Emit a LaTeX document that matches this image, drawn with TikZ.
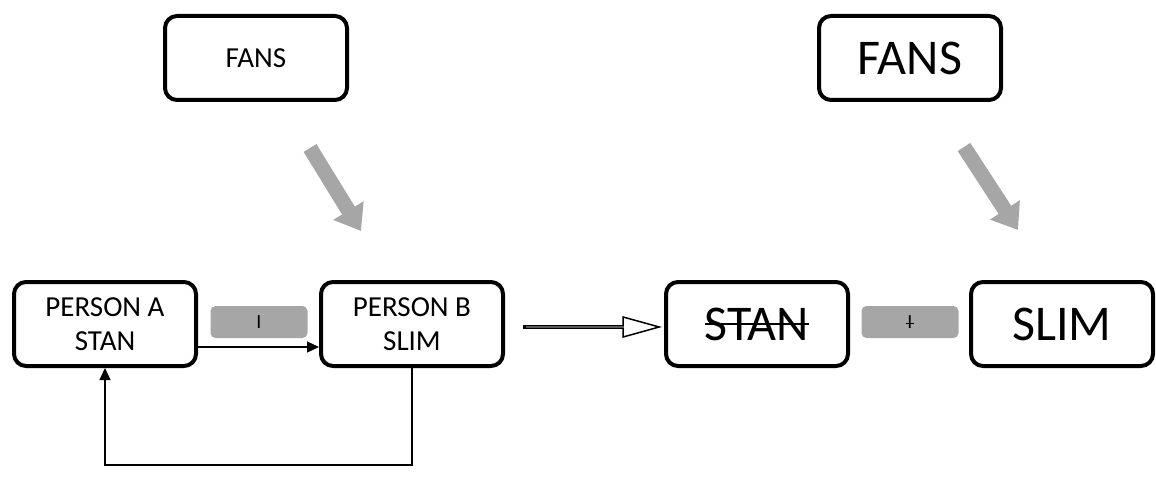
\documentclass[tikz,border=0pt]{standalone}
\usepackage{fontspec}
\setmainfont{Carlito}
\usetikzlibrary{arrows.meta,shapes.arrows}
\definecolor{tagGray}{HTML}{A6A6A6}

\begin{document}
\begin{tikzpicture}[x=1pt,y=-1pt,
		box/.style={draw, line width=4pt, rounded corners=12pt, minimum width=182pt, minimum height=84pt, align=center, font=\fontsize{29}{34}\selectfont},
		bigbox/.style={box, font=\fontsize{50}{60}\selectfont},
		tag/.style={fill=tagGray, rounded corners=5pt, minimum width=97pt, minimum height=32pt, inner sep=0pt, font=\fontsize{20}{24}\selectfont},
		link/.style={line width=1.3pt, -{Triangle[length=12pt,width=11pt]}},
		push/.style={line width=15pt, draw=tagGray, -{Triangle[length=24pt,width=34pt]}}]
		%%%%% START %%%%%
		\useasboundingbox (0,0) rectangle (1156,481);
		
		\node[box] (fansL) at (256,58) {FANS};
		\node[bigbox] (fansR) at (910,58) {FANS};
		
		\node[box] (persA) at (105,324) {PERSON A\\STAN};
		\node[box] (persB) at (412,324) {PERSON B\\SLIM};
		\node[bigbox] (stan) at (757,324) {};
		\node[inner sep=0pt, font=\fontsize{50}{60}\selectfont] (stantxt) at (stan.center) {STAN};
		\draw[line width=2pt] (stantxt.west) -- (stantxt.east);
		\node[bigbox] (slim) at (1062,324) {SLIM};
		
		\node[tag] (tagI) at (259,322) {I};
		\node[tag] (tagX) at (910,322) {I};
		\draw[line width=1pt] ([xshift=-4pt,yshift=-1pt]tagX.center) -- ([xshift=4pt,yshift=-1pt]tagX.center);
		
		\draw[link] ([yshift=-23pt]persA.east) -- ([yshift=-23pt]persB.west);
		\draw[link] (persB.south) -- ++(0,97) -| (persA.south);
		
		\node[single arrow, draw, line width=1.5pt, minimum height=134pt, minimum width=20pt, single arrow head extend=5.5pt, single arrow tip angle=31, inner sep=0pt] (shift) at (590,327) {};
		\draw[line width=3pt] (shift.before tail) -- (shift.after tail);
		
		\coordinate (pushLa) at (310,148);
		\coordinate (pushLb) at (361,231);
		\draw[push] (pushLa) -- (pushLb);
		\coordinate (pushRa) at (964,147);
		\coordinate (pushRb) at (1018,230);
		\draw[push] (pushRa) -- (pushRb);
		%%%%% END %%%%%
\end{tikzpicture}
\end{document}
